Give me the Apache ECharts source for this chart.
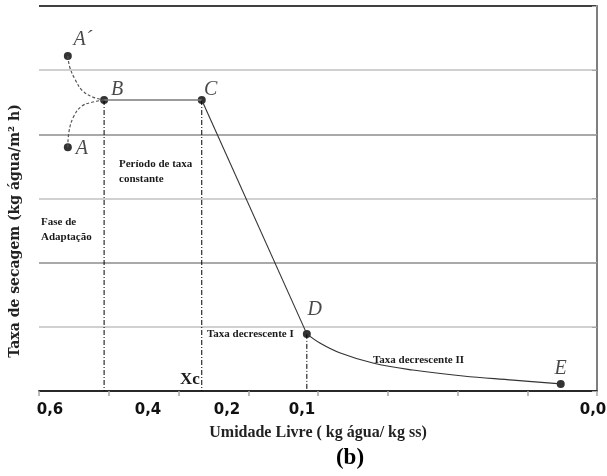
<!DOCTYPE html>
<html><head><meta charset="utf-8">
<script src="https://cdn.jsdelivr.net/npm/echarts@6/dist/echarts.min.js"></script>
<style>html,body{margin:0;padding:0;background:#fff}#c{width:607px;height:476px}</style>
</head><body><div id="c"></div>
<script>
// ---- data (x: free moisture, y: drying rate, axis units) ----
const pointNames = ["A´", "A", "B", "C", "D", "E"];
const pointX = [0.569, 0.569, 0.530, 0.425, 0.312, 0.039];
const pointY = [5.22, 3.80, 4.535, 4.535, 0.89, 0.11];
const curveTopX = [0.569, 0.567, 0.561, 0.553, 0.542, 0.530];
const curveTopY = [5.22, 5.05, 4.85, 4.675, 4.58, 4.535];
const curveBotX = [0.569, 0.568, 0.563, 0.554, 0.543, 0.530];
const curveBotY = [3.80, 4.02, 4.27, 4.44, 4.50, 4.535];
const fallX = [0.312, 0.298, 0.276, 0.241, 0.198, 0.144, 0.090, 0.039];
const fallY = [0.89, 0.748, 0.592, 0.436, 0.327, 0.234, 0.171, 0.11];
const xTickLabels = ["0,6", "0,4", "0,2", "0,1", "0,0"];
const xTitle = "Umidade Livre ( kg água/ kg ss)";
const yTitle = "Taxa de secagem (kg água/m² h)";
const notes = ["Período de taxa\nconstante", "Fase de\nAdaptação", "Taxa decrescente I", "Taxa decrescente II", "Xc"];
const caption = "(b)";

const zip = (xs, ys) => xs.map((v, i) => [v, ys[i]]);
const P = i => [pointX[i], pointY[i]];

const labelOffsets = [[15,-16],[14,2],[13,-10],[9,-10],[8,-24],[0,-15]];
const tickPos = [50, 148, 227, 302, 593];
const notePos = [[119,157],[41,215],[207,334],[373,360],[180,380]];

const serif = "Liberation Serif";
const dashDot = {color:'#000', width:1, type:[5,2,1,2]};
const chart = echarts.init(document.getElementById('c'), null, {renderer:'canvas'});

const graphics = [];
xTickLabels.forEach((t,i)=>graphics.push({type:'text', x:tickPos[i], y:410, style:{text:t, font:'bold 15px "DejaVu Sans"', fill:'#111', align:'center', verticalAlign:'middle'}}));
graphics.push({type:'text', x:318, y:433, style:{text:xTitle, font:'bold 16px "'+serif+'"', fill:'#222', align:'center', verticalAlign:'middle'}});
graphics.push({type:'text', x:15, y:231, rotation:Math.PI/2, style:{text:yTitle, font:'bold 14px "DejaVu Serif"', fill:'#222', align:'center', verticalAlign:'middle'}});
graphics.push({type:'text', x:350, y:458, style:{text:caption, font:'bold 23px "'+serif+'"', fill:'#000', align:'center', verticalAlign:'middle'}});
notes.forEach((t,i)=>{
  const big = i===4;
  graphics.push({type:'text', x:notePos[i][0], y:notePos[i][1], style:{text:t, font:(big?'bold 17px ':'bold 11px ')+'"'+serif+'"', fill:'#1a1a1a', align:'left', verticalAlign: big||i===2||i===3 ? 'middle':'top', lineHeight:big?17:15}});
});

chart.setOption({
  animation:false,
  grid:{left:39, right:10, top:6, bottom:85},
  xAxis:[{type:'value', min:0, max:0.6, interval:0.075, inverse:true,
    axisLine:{show:true, lineStyle:{color:'#a6a6a6', width:2}},
    axisTick:{show:true, length:5, lineStyle:{color:'#a6a6a6', width:1.5}},
    axisLabel:{show:false}, splitLine:{show:false}},
    {type:'value', position:'top', min:0, max:0.6, inverse:true, axisLine:{show:true, lineStyle:{color:'#000', width:1.5}}, axisTick:{show:false}, axisLabel:{show:false}, splitLine:{show:false}}],
  yAxis:[{type:'value', min:0, max:6, interval:1,
    axisLine:{show:true, lineStyle:{color:'#a6a6a6', width:2}},
    axisTick:{show:true, length:5, lineStyle:{color:'#a6a6a6'}},
    axisLabel:{show:false},
    splitLine:{show:true, lineStyle:{color:['#a6a6a6','#c0c0c0','#8c8c8c','#c0c0c0','#8c8c8c','#c0c0c0','#000'], width:1.5}}},
    {type:'value', position:'right', min:0, max:6, axisLine:{show:true, lineStyle:{color:'#7f7f7f', width:2}}, axisTick:{show:false}, axisLabel:{show:false}, splitLine:{show:false}}],
  series:[
    {type:'line', data:[P(2),[pointX[2],0]], symbol:'none', lineStyle:dashDot, silent:true},
    {type:'line', data:[P(3),[pointX[3],0]], symbol:'none', lineStyle:dashDot, silent:true},
    {type:'line', data:[P(4),[pointX[4],0]], symbol:'none', lineStyle:dashDot, silent:true},
    {type:'line', data:zip(curveTopX,curveTopY), smooth:0.4, symbol:'none', lineStyle:{color:'#555', width:1.2, type:[3,2]}},
    {type:'line', data:zip(curveBotX,curveBotY), smooth:0.4, symbol:'none', lineStyle:{color:'#555', width:1.2, type:[3,2]}},
    {type:'line', data:[P(2),P(3)], symbol:'none', lineStyle:{color:'#7a7a7a', width:1.6}},
    {type:'line', data:[P(3),P(4)], symbol:'none', lineStyle:{color:'#333', width:1.1}},
    {type:'line', data:zip(fallX,fallY), smooth:0.4, symbol:'none', lineStyle:{color:'#333', width:1.2}},
    {type:'scatter', symbolSize:8, itemStyle:{color:'#000'},
     data:pointNames.map((n,i)=>({value:P(i), name:n, label:{offset:labelOffsets[i]}})),
     label:{show:true, position:'inside', formatter:p=>p.name, fontFamily:serif, fontStyle:'italic', fontSize:20, color:'#1a1a1a'}}
  ],
  graphic:graphics
});
</script></body></html>
